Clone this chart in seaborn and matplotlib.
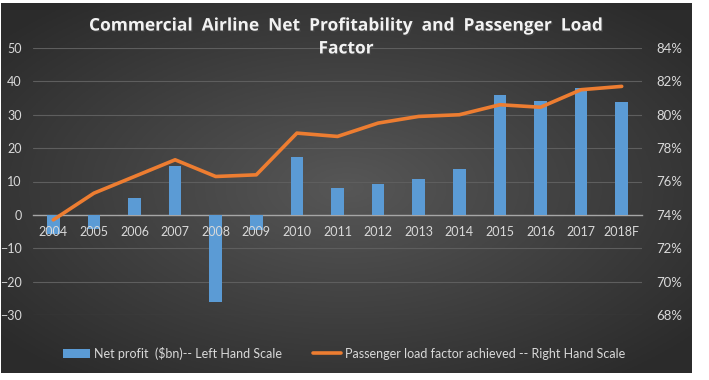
import numpy as np
import pandas as pd
import matplotlib
matplotlib.use('Agg')
import matplotlib.pyplot as plt
import seaborn as sns
from matplotlib.lines import Line2D
from matplotlib.patches import Patch
import matplotlib.patheffects as pe

# data
years = ['2004', '2005', '2006', '2007', '2008', '2009', '2010', '2011',
         '2012', '2013', '2014', '2015', '2016', '2017', '2018F']
net_profit = [-5.6, -4.1, 5.0, 14.5, -26.1, -4.6, 17.3, 8.2,
              9.2, 10.7, 13.7, 35.9, 34.1, 37.9, 33.8]
load_factor = [73.7, 75.3, 76.3, 77.3, 76.3, 76.4, 78.9, 78.7,
               79.5, 79.9, 80.0, 80.6, 80.45, 81.5, 81.7]
left_ticks = [-30, -20, -10, 0, 10, 20, 30, 40, 50]
right_ticks = [68, 70, 72, 74, 76, 78, 80, 82, 84]

df = pd.DataFrame({'year': years, 'profit': net_profit, 'lf': load_factor})

sns.set_theme(style='dark')
plt.rcParams['font.family'] = ['Lato', 'DejaVu Sans']

BLUE = '#5b9bd5'
ORANGE = '#ed7d31'
TXT = '#d9d9d9'

fig = plt.figure(figsize=(7.09, 3.8), dpi=100)
fig.patch.set_facecolor('white')

# dark radial-gradient background panel
bg = fig.add_axes([1 / 709, 1 - 373 / 380, 691 / 709, 370 / 380])
gx, gy = np.meshgrid(np.linspace(-1, 1, 300), np.linspace(-1, 1, 160))
r = np.clip(np.sqrt(gx ** 2 + gy ** 2) / 1.3, 0, 1)
shade = 0.34 - 0.17 * r
bg.imshow(np.dstack([shade, shade, shade]), aspect='auto', extent=[0, 1, 0, 1])
bg.set_axis_off()

ax = fig.add_axes([33 / 709, 1 - 315 / 380, 609 / 709, 267 / 380])
ax.patch.set_alpha(0)
sns.barplot(data=df, x='year', y='profit', color=BLUE, width=0.31,
            saturation=1, linewidth=0, edgecolor='none', ax=ax, zorder=2)
ax.set_xlim(-0.5, len(years) - 0.5)
ax.set_ylim(-30, 50)
ax.set_yticks(left_ticks)
ax.yaxis.grid(True, color='#5e5e5e', linewidth=0.8)
ax.set_axisbelow(True)
ax.xaxis.set_zorder(3)  # year labels sit on top of the bars
for s in ['top', 'right', 'left']:
    ax.spines[s].set_visible(False)
ax.spines['bottom'].set_position(('data', 0))
ax.spines['bottom'].set_color('#a6a6a6')
ax.spines['bottom'].set_linewidth(1.0)
ax.spines['bottom'].set_zorder(1.5)
ax.tick_params(axis='x', length=0, pad=8, labelsize=9, labelcolor=TXT)
ax.tick_params(axis='y', length=0, pad=8, labelsize=9, labelcolor=TXT)
ax.set_xlabel('')
ax.set_ylabel('')

ax2 = ax.twinx()
sns.lineplot(x=np.arange(len(years)), y=df['lf'], color=ORANGE,
             linewidth=2.6, ax=ax2)
ax2.set_ylim(68, 84)
ax2.set_yticks(right_ticks)
ax2.set_yticklabels([f'{t}%' for t in right_ticks])
ax2.tick_params(axis='y', length=0, pad=10, labelsize=9.5, labelcolor=TXT)
ax2.set_ylabel('')
ax2.grid(False)
for s in ax2.spines.values():
    s.set_visible(False)

fig.text(0.488, 1 - 37 / 380,
         'Commercial  Airline  Net  Profitability  and  Passenger  Load\nFactor',
         ha='center', va='center', fontsize=12.5, fontweight='bold',
         family=['Open Sans', 'DejaVu Sans'],
         color='#f2f2f2', linespacing=1.35,
         path_effects=[pe.withSimplePatchShadow(offset=(1, -1), alpha=0.6)])

handles = [Patch(facecolor=BLUE, edgecolor='none'),
           Line2D([0], [0], color=ORANGE, linewidth=2.6)]
labels = ['Net profit  ($bn)-- Left Hand Scale',
          'Passenger load factor achieved -- Right Hand Scale']
leg = fig.legend(handles, labels, loc='center', bbox_to_anchor=(0.485, 1 - 353 / 380),
                 ncol=2, frameon=False, fontsize=9, labelcolor=TXT,
                 handlelength=2.2, handletextpad=0.3, columnspacing=2.5)

fig.savefig('out.png', dpi=100)
